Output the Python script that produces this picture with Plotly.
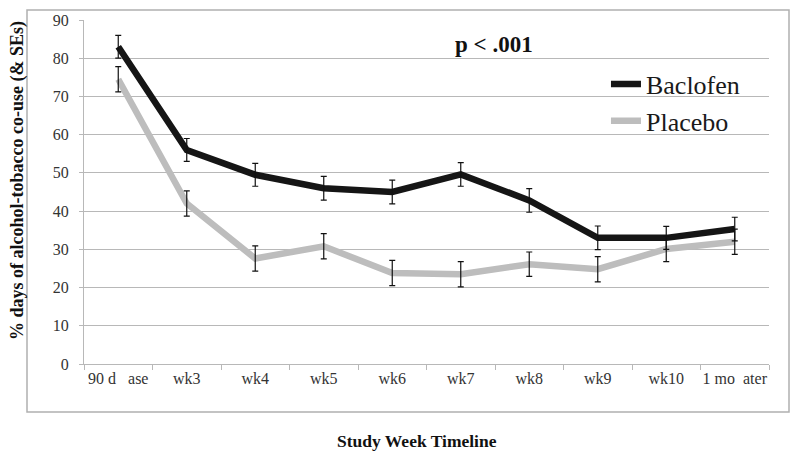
import plotly.graph_objects as go

categories = ["90 d   ase", "wk3", "wk4", "wk5", "wk6", "wk7", "wk8", "wk9", "wk10", "1 mo  ater"]
baclofen = [83, 56, 49.5, 46, 45, 49.6, 42.8, 33, 33, 35.3]
baclofen_se = [3.0, 3.0, 3.0, 3.1, 3.1, 3.1, 3.1, 3.1, 3.0, 3.1]
placebo = [74.5, 42, 27.6, 30.8, 23.8, 23.5, 26.1, 24.8, 30.1, 32]
placebo_se = [3.3, 3.3, 3.3, 3.3, 3.3, 3.3, 3.2, 3.3, 3.3, 3.3]
y_ticks = [0, 10, 20, 30, 40, 50, 60, 70, 80, 90]

SERIF = "Liberation Serif"
GRID = "#b8b8b8"

fig = go.Figure()
fig.add_trace(go.Scatter(x=categories, y=baclofen, mode="lines", name="Baclofen",
                         line=dict(color="#151515", width=6.5)))
fig.add_trace(go.Scatter(x=categories, y=placebo, mode="lines", name="Placebo",
                         line=dict(color="#bdbdbd", width=6.5)))
# error bars drawn on top
for vals, se in [(baclofen, baclofen_se), (placebo, placebo_se)]:
    fig.add_trace(go.Scatter(x=categories, y=vals, mode="markers", showlegend=False,
                             marker=dict(size=1, color="rgba(0,0,0,0)"),
                             error_y=dict(type="data", array=se, visible=True,
                                          color="#111111", thickness=1.2, width=3),
                             hoverinfo="skip"))

# page body has an 8px margin: figure is offset by 8px
fig.update_layout(
    width=792, height=453,
    margin=dict(l=76, r=31, t=12, b=97),
    paper_bgcolor="white", plot_bgcolor="white",
    font=dict(family=SERIF, color="#333333"),
    showlegend=True,
    legend=dict(x=0.762, y=0.882, xanchor="left", yanchor="top",
                font=dict(family=SERIF, size=26, color="#1a1a1a"),
                bgcolor="rgba(0,0,0,0)", tracegroupgap=0, itemwidth=30),
    xaxis=dict(type="category", range=[-0.5, 9.5], tickson="boundaries",
               showgrid=False, showline=True, linecolor=GRID, linewidth=1,
               ticks="outside", ticklen=5, tickcolor=GRID, tickangle=0, automargin=False,
               tickfont=dict(family=SERIF, size=16, color="#333333"),
               zeroline=False),
    yaxis=dict(range=[0, 90], tickvals=y_ticks, showgrid=True, gridcolor=GRID, gridwidth=1,
               showline=True, linecolor=GRID, linewidth=1, automargin=False,
               ticks="outside", ticklen=4, tickcolor=GRID, ticklabelstandoff=7,
               tickfont=dict(family=SERIF, size=16, color="#333333"),
               zeroline=False),
)

fig.add_annotation(text="<b>p < .001</b>", xref="paper", yref="paper",
                   x=(494 - 84) / 685, y=(364 - 44) / 344, xanchor="center", yanchor="middle",
                   showarrow=False, font=dict(family=SERIF, size=23, color="#111111"))
fig.add_annotation(text="<b>% days of alcohol-tobacco co-use (& SEs)</b>",
                   xref="paper", yref="paper", x=(17 - 84) / 685, y=(364 - 181) / 344,
                   xanchor="center", yanchor="middle", textangle=-90,
                   showarrow=False, font=dict(family=SERIF, size=18, color="#111111"))
fig.add_annotation(text="<b>Study Week Timeline</b>", xref="paper", yref="paper",
                   x=(417 - 84) / 685, y=(364 - 441) / 344, xanchor="center", yanchor="middle",
                   showarrow=False, font=dict(family=SERIF, size=17.5, color="#111111"))

# outer chart border
fig.add_shape(type="rect", xref="paper", yref="paper",
              x0=(27 - 84) / 685, x1=(789 - 84) / 685,
              y0=(364 - 412) / 344, y1=(364 - 10) / 344,
              line=dict(color="#b0b0b0", width=1.5), fillcolor="rgba(0,0,0,0)", layer="below")

fig.write_html("out.html")
